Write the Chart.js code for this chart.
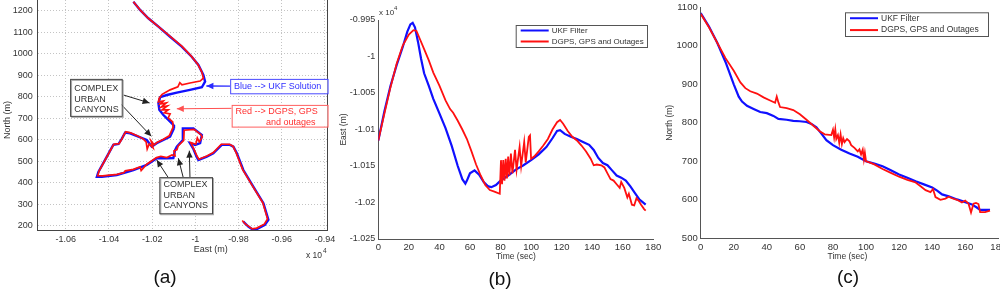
<!DOCTYPE html>
<html><head><meta charset="utf-8">
<script src="https://cdn.jsdelivr.net/npm/chart.js@4/dist/chart.umd.min.js"></script>
<style>
html,body{margin:0;padding:0;background:#fff;width:1000px;height:291px;overflow:hidden}
canvas{position:absolute;left:0;top:0}
</style></head><body>
<canvas id="ca" width="1000" height="291"></canvas>
<canvas id="cb" width="1000" height="291"></canvas>
<canvas id="cc" width="1000" height="291"></canvas>
<script>
// ---------- Panel (a): trajectory, East (x 1e4 m) vs North (m) ----------
const trajBlueEast = [-1.0287,-1.0256,-1.0218,-1.0171,-1.0117,-1.0063,-1.0017,-0.9986,-0.9963,-0.9955,-0.9970,-1.0025,-1.0086,-1.0132,-1.0163,-1.0171,-1.0167,-1.0148,-1.0125,-1.0102,-1.0099,-1.0117,-1.0148,-1.0179,-1.0202,-1.0225,-1.0264,-1.0302,-1.0325,-1.0341,-1.0356,-1.0380,-1.0418,-1.0449,-1.0456,-1.0433,-1.0364,-1.0287,-1.0225,-1.0179,-1.0132,-1.0102,-1.0094,-1.0086,-1.0058,-1.0058,-1.0009,-0.9970,-0.9978,-1.0001,-1.0025,-1.0010,-0.9994,-0.9986,-0.9947,-0.9917,-0.9878,-0.9840,-0.9824,-0.9808,-0.9778,-0.9732,-0.9685,-0.9662,-0.9678,-0.9716,-0.9732,-0.9755,-0.9778];
const trajBlueNorth = [1243,1205,1166,1127,1080,1034,987,949,902,871,845,833,820,809,799,771,740,716,693,670,654,615,600,585,569,600,615,631,634,605,581,577,507,451,429,429,437,460,484,515,515,516,553,569,600,654,654,623,585,577,585,560,521,507,522,538,577,577,569,538,460,383,306,228,205,185,181,197,220];
const trajRedEast = [-1.0287,-1.0256,-1.0218,-1.0171,-1.0117,-1.0063,-1.0019,-0.9988,-0.9970,-0.9963,-0.9978,-1.0025,-1.0062,-1.0072,-1.0081,-1.0117,-1.0154,-1.0168,-1.0171,-1.0149,-1.0163,-1.0135,-1.0158,-1.0130,-1.0154,-1.0126,-1.0144,-1.0117,-1.0126,-1.0105,-1.0103,-1.0121,-1.0150,-1.0178,-1.0191,-1.0205,-1.0196,-1.0214,-1.0223,-1.0228,-1.0242,-1.0264,-1.0300,-1.0322,-1.0332,-1.0338,-1.0353,-1.0378,-1.0416,-1.0446,-1.0452,-1.0430,-1.0362,-1.0330,-1.0325,-1.0287,-1.0256,-1.0251,-1.0225,-1.0180,-1.0160,-1.0132,-1.0108,-1.0094,-1.0099,-1.0085,-1.0080,-1.0054,-1.0052,-1.0006,-0.9975,-0.9968,-0.9982,-0.9991,-0.9998,-1.0022,-1.0008,-0.9992,-0.9984,-0.9947,-0.9917,-0.9880,-0.9842,-0.9826,-0.9811,-0.9781,-0.9735,-0.9688,-0.9666,-0.9681,-0.9716,-0.9737,-0.9769,-0.9783];
const trajRedNorth = [1243,1205,1166,1127,1082,1036,990,951,916,887,874,865,856,866,847,833,812,793,777,781,767,772,753,758,740,740,726,721,702,684,660,619,602,588,577,595,563,581,558,591,605,617,633,638,622,608,583,580,510,455,434,433,440,448,456,463,475,458,487,518,524,518,530,526,549,555,572,598,645,649,625,614,591,609,580,588,560,524,510,525,541,580,580,571,540,462,385,308,233,208,190,186,209,225];
const eastTicksA = [-1.06,-1.04,-1.02,-1,-0.98,-0.96,-0.94];
const eastTickLabelsA = ['-1.06','-1.04','-1.02','-1','-0.98','-0.96','-0.94'];
const northTicksA = [200,300,400,500,600,700,800,900,1000,1100,1200];

// ---------- Panel (b): East (x 1e4 m) vs time ----------
const timeBlueB = [0,4,8,12,16,19,21,22.5,24,26,28,30,33,36,40,44,48,52,55,57,58,60,63,66,69,72,74,77,80,85,90,95,100,105,110,114,117,119,122,126,130,134,138,141,144,147,150,153,156,159,162,165,168,171,175];
const eastBlueB = [-1.0115,-1.0075,-1.0040,-1.0012,-0.9987,-0.9966,-0.9956,-0.9954,-0.9960,-0.9980,-1.0003,-1.0023,-1.0040,-1.0058,-1.0078,-1.0098,-1.0122,-1.0150,-1.0168,-1.0174,-1.0170,-1.0160,-1.0156,-1.0162,-1.0172,-1.0178,-1.0179,-1.0176,-1.0170,-1.0163,-1.0155,-1.0149,-1.0142,-1.0134,-1.0124,-1.0112,-1.0102,-1.0101,-1.0106,-1.0110,-1.0113,-1.0117,-1.0121,-1.0128,-1.0139,-1.0146,-1.0149,-1.0156,-1.0163,-1.0166,-1.0170,-1.0178,-1.0187,-1.0196,-1.0203];
const timeRedB = [0,4,8,12,16,20,23,25,27,30,33,36,40,44,47,49,52,55,58,61,64,67,70,73,76,79.5,80.3,81,81.8,82.6,83.4,84.2,85,85.8,86.8,87.8,89.5,90.5,92.5,93.5,95.5,96.5,98.5,99.3,100,102,105,108,111,114,117,119,121,124,127,130,133,136,139,141,143,146,148,150,152,154,156,158,159,161,163,164,166,167.5,169,170.5,172,174,175];
const eastRedB = [-1.0115,-1.0078,-1.0042,-1.0010,-0.9985,-0.9970,-0.9964,-0.9965,-0.9975,-0.9990,-1.0005,-1.0022,-1.0040,-1.0060,-1.0072,-1.0077,-1.0088,-1.0100,-1.0113,-1.0130,-1.0148,-1.0163,-1.0176,-1.0183,-1.0185,-1.0188,-1.0142,-1.0175,-1.0142,-1.0170,-1.0140,-1.0167,-1.0137,-1.0163,-1.0133,-1.0160,-1.0128,-1.0155,-1.0124,-1.0150,-1.0117,-1.0145,-1.0110,-1.0108,-1.0140,-1.0137,-1.0130,-1.0122,-1.0113,-1.0100,-1.0090,-1.0087,-1.0092,-1.0102,-1.0110,-1.0115,-1.0122,-1.0130,-1.0140,-1.0149,-1.0148,-1.0149,-1.0152,-1.0160,-1.0168,-1.0170,-1.0175,-1.0180,-1.0172,-1.0180,-1.0193,-1.0188,-1.0203,-1.0204,-1.0194,-1.0198,-1.0203,-1.0209,-1.0211];
const eastTicksB = [-1.025,-1.02,-1.015,-1.01,-1.005,-1,-0.995];
const eastTickLabelsB = ['-1.025','-1.02','-1.015','-1.01','-1.005','-1','-0.995'];
const timeTicks = [0,20,40,60,80,100,120,140,160,180];

// ---------- Panel (c): North (m) vs time ----------
const timeBlueC = [0,5,10,15,20,23,25,28,32,36,40,44,47,52,56,60,64,67,70,73,76,80,85,90,95,100,105,110,115,120,125,130,135,140,143,146,150,155,160,164,167,169,175];
const northBlueC = [1085,1050,1008,958,900,868,855,844,836,828,825,818,810,808,805,804,802,797,788,772,755,742,730,720,712,700,694,687,677,666,657,648,640,632,624,614,609,601,594,588,580,574,574];
const timeRedC = [0,5,10,15,20,24,27,30,34,38,42,45,46,47,48,52,56,60,64,68,72,75,79,80,80.7,81.4,82,83,83.8,84.6,85.4,86.2,87,88.5,90,91,93,95,96,97,98,98.7,99.3,100,102,105,110,115,120,125,128,130,133,136,139,140.5,142,145,148,150,152,155,158,160,162,163.5,165,166.5,168,169,172,175];
const northRedC = [1083,1048,1008,968,935,905,890,882,876,866,858,852,868,853,841,838,833,822,808,793,778,770,768,782,762,783,758,768,748,770,745,760,750,758,752,742,735,726,731,718,730,705,722,700,697,692,680,670,660,652,648,645,635,625,620,628,607,600,603,608,604,600,593,598,590,567,590,592,589,568,568,572];
const northTicksC = [500,600,700,800,900,1000,1100];

const seriesNames = ['UKF Filter','DGPS, GPS and Outages'];
const BLUE = '#1010ff', RED = '#ff1010';
const FONT = '"Liberation Sans", Arial, Helvetica, sans-serif';
const TXT = '#333';

function zip(xs, ys){ return xs.map((x,i)=>({x:x, y:ys[i]})); }
function setTicks(vals){ return s => { s.ticks = vals.map(v=>({value:v})); }; }
function labelFrom(vals, labels){ return v => { const i = vals.findIndex(t=>Math.abs(t-v)<1e-9); return i<0 ? '' : (labels ? labels[i] : String(vals[i])); }; }
function fitY(w){ return s => { s.width=w; s.paddingTop=0; s.paddingBottom=0; s.paddingLeft=0; s.paddingRight=0; }; }
function fitX(h){ return s => { s.height=h; s.paddingTop=0; s.paddingBottom=0; s.paddingLeft=0; s.paddingRight=0; }; }

function txt(ctx, s, x, y, size, color, align, rot){
  ctx.save(); ctx.font = size+'px '+FONT; ctx.fillStyle = color||TXT;
  ctx.textAlign = align||'center'; ctx.textBaseline = 'middle';
  ctx.translate(x,y); if(rot) ctx.rotate(rot); ctx.fillText(s,0,0); ctx.restore();
}
function arrow(ctx, x1,y1,x2,y2,color,w){
  ctx.save(); ctx.strokeStyle=color; ctx.fillStyle=color; ctx.lineWidth=w||1;
  ctx.beginPath(); ctx.moveTo(x1,y1); ctx.lineTo(x2,y2); ctx.stroke();
  const a=Math.atan2(y2-y1,x2-x1), L=7, H=3.2;
  ctx.beginPath(); ctx.moveTo(x2,y2);
  ctx.lineTo(x2-L*Math.cos(a)+H*Math.sin(a), y2-L*Math.sin(a)-H*Math.cos(a));
  ctx.lineTo(x2-L*Math.cos(a)-H*Math.sin(a), y2-L*Math.sin(a)+H*Math.cos(a));
  ctx.closePath(); ctx.fill(); ctx.restore();
}
function legend(chart, x0,y0,x1,y1, size){
  const ctx=chart.ctx; ctx.save();
  ctx.fillStyle='#fff'; ctx.fillRect(x0,y0,x1-x0,y1-y0);
  ctx.strokeStyle='#555'; ctx.lineWidth=1; ctx.strokeRect(x0+0.5,y0+0.5,x1-x0,y1-y0);
  const ds=chart.data.datasets, h=(y1-y0)/ds.length;
  ds.forEach((d,i)=>{
    const yy=y0+h*(i+0.5);
    ctx.strokeStyle=d.borderColor; ctx.lineWidth=2;
    ctx.beginPath(); ctx.moveTo(x0+5,yy); ctx.lineTo(x0+33,yy); ctx.stroke();
    txt(ctx,d.label,x0+36,yy,size,TXT,'left');
  });
  ctx.restore();
}

// ---------- Chart (a) ----------
const annotA = {
  id:'annotA',
  afterDraw(chart){
    const ctx=chart.ctx, xs=chart.scales.x, ys=chart.scales.y, a=chart.chartArea;
    const X=v=>xs.getPixelForValue(v), Y=v=>ys.getPixelForValue(v);
    ctx.save();
    ctx.strokeStyle='#444'; ctx.lineWidth=1;
    ctx.beginPath(); ctx.moveTo(a.right-0.5,a.top); ctx.lineTo(a.right-0.5,a.bottom); ctx.stroke();
    ctx.restore();
    txt(ctx,'East (m)',(a.left+a.right)/2+28,250,9);
    txt(ctx,'North (m)',8,120,9,TXT,'center',-Math.PI/2);
    txt(ctx,'x 10',306,256,8.5,TXT,'left');
    txt(ctx,'4',323,251,6.5,TXT,'left');
    txt(ctx,'(a)',165,278,19,'#111');
    function box(e0,n0,e1,n1,lines,color,border){
      const x0=X(e0),y0=Y(n0),x1=X(e1),y1=Y(n1);
      ctx.save(); ctx.fillStyle='#fff'; ctx.fillRect(x0,y0,x1-x0,y1-y0);
      if(border==='gray'){
        ctx.strokeStyle='#aaa'; ctx.lineWidth=1; ctx.strokeRect(x0+1.5,y0+1.5,x1-x0,y1-y0);
        ctx.strokeStyle='#444'; ctx.strokeRect(x0+0.5,y0+0.5,x1-x0,y1-y0);
      } else { ctx.strokeStyle=border; ctx.lineWidth=1; ctx.strokeRect(x0+0.5,y0+0.5,x1-x0,y1-y0); }
      ctx.restore();
      lines.forEach(l=>txt(ctx,l.t,X(l.e),Y(l.n),9,color,l.al||'left'));
    }
    arrow(ctx,X(-1.0333),Y(809),X(-1.0212),Y(772),'#222');
    arrow(ctx,X(-1.0349),Y(771),X(-1.0204),Y(617),'#222');
    box(-1.0580,884,-1.0341,712,[{t:'COMPLEX',e:-1.0561,n:840},{t:'URBAN',e:-1.0561,n:789},{t:'CANYONS',e:-1.0561,n:740}],'#333','gray');
    arrow(ctx,X(-1.0125),Y(424),X(-1.0179),Y(507),'#222');
    arrow(ctx,X(-1.0056),Y(424),X(-1.0079),Y(515),'#222');
    arrow(ctx,X(-1.0025),Y(424),X(-1.0028),Y(550),'#222');
    box(-1.0167,427,-0.9923,259,[{t:'COMPLEX',e:-1.0148,n:391},{t:'URBAN',e:-1.0148,n:340},{t:'CANYONS',e:-1.0148,n:293}],'#333','gray');
    arrow(ctx,X(-0.9839),Y(850),X(-0.9949),Y(851),'#2a2aff',1.3);
    box(-0.9839,884,-0.9388,817,[{t:'Blue --> UKF Solution',e:-0.9821,n:849}],'#3030ff','#4a4aff');
    arrow(ctx,X(-0.9832),Y(747),X(-1.0086),Y(745),'#ff5050',1);
    box(-0.9832,763,-0.9388,662,[{t:'Red --> DGPS, GPS',e:-0.9814,n:734},{t:'and outages',e:-0.9444,n:683,al:'right'}],'#ff3030','#ff6060');
  }
};
new Chart(document.getElementById('ca'),{
  type:'scatter',
  data:{datasets:[
    {label:seriesNames[0],data:zip(trajBlueEast,trajBlueNorth),showLine:true,borderColor:BLUE,backgroundColor:BLUE,borderWidth:2.4,pointRadius:0,order:1},
    {label:seriesNames[1],data:zip(trajRedEast,trajRedNorth),showLine:true,borderColor:RED,backgroundColor:RED,borderWidth:1.7,pointRadius:0,order:0}
  ]},
  options:{
    responsive:false,animation:false,devicePixelRatio:1,
    layout:{padding:{left:7.7,right:672,top:0,bottom:21}},
    plugins:{legend:{display:false},tooltip:{enabled:false}},
    scales:{
      x:{type:'linear',min:-1.0730,max:-0.9386,afterBuildTicks:setTicks(eastTicksA),afterFit:fitX(40),
         ticks:{callback:labelFrom(eastTicksA,eastTickLabelsA),font:{family:FONT,size:9},color:TXT,padding:4,maxRotation:0,autoSkip:false},
         grid:{color:'#c4c4c4',drawTicks:false,lineWidth:1},border:{color:'#444',dash:[1,2]}},
      y:{type:'linear',min:181,max:1251,afterBuildTicks:setTicks(northTicksA),afterFit:fitY(30),
         ticks:{callback:labelFrom(northTicksA),font:{family:FONT,size:9},color:TXT,padding:5,autoSkip:false},
         grid:{color:'#c4c4c4',drawTicks:false,lineWidth:1},border:{color:'#444',dash:[1,2]}}
    }
  },
  plugins:[annotA]
});

// ---------- Chart (b) ----------
const decoB = {
  id:'decoB',
  afterDraw(chart){
    const ctx=chart.ctx, a=chart.chartArea;
    txt(ctx,'Time (sec)',(a.left+a.right)/2,257,8.5);
    txt(ctx,'East (m)',344,(a.top+a.bottom)/2,8.5,TXT,'center',-Math.PI/2);
    txt(ctx,'x 10',379,13,8,TXT,'left');
    txt(ctx,'4',394,8,6,TXT,'left');
    txt(ctx,'(b)',500,280,19,'#111');
    legend(chart,515.7,25,647,47,8);
  }
};
new Chart(document.getElementById('cb'),{
  type:'scatter',
  data:{datasets:[
    {label:seriesNames[0],data:zip(timeBlueB,eastBlueB),showLine:true,borderColor:BLUE,backgroundColor:BLUE,borderWidth:2.2,pointRadius:0,order:1},
    {label:seriesNames[1],data:zip(timeRedB,eastRedB),showLine:true,borderColor:RED,backgroundColor:RED,borderWidth:1.8,pointRadius:0,order:0}
  ]},
  options:{
    responsive:false,animation:false,devicePixelRatio:1,
    layout:{padding:{left:333.3,right:346.7,top:20,bottom:12}},
    plugins:{legend:{display:false},tooltip:{enabled:false}},
    scales:{
      x:{type:'linear',min:0,max:180,afterBuildTicks:setTicks(timeTicks),afterFit:fitX(40),
         ticks:{callback:labelFrom(timeTicks),font:{family:FONT,size:9.5},color:TXT,padding:3,maxRotation:0,autoSkip:false},
         grid:{display:false,drawTicks:false},border:{color:'#555'}},
      y:{type:'linear',min:-1.025,max:-0.995,afterBuildTicks:setTicks(eastTicksB),afterFit:fitY(45),
         ticks:{callback:labelFrom(eastTicksB,eastTickLabelsB),font:{family:FONT,size:9},color:TXT,padding:3,autoSkip:false},
         grid:{display:false,drawTicks:false},border:{color:'#555'}}
    }
  },
  plugins:[decoB]
});

// ---------- Chart (c) ----------
const decoC = {
  id:'decoC',
  afterDraw(chart){
    const ctx=chart.ctx, a=chart.chartArea;
    txt(ctx,'Time (sec)',(a.left+a.right)/2-2,257,8.5);
    txt(ctx,'North (m)',670,(a.top+a.bottom)/2,8.5,TXT,'center',-Math.PI/2);
    txt(ctx,'(c)',848,278,19,'#111');
    legend(chart,845,12.3,988,36,8.5);
  }
};
new Chart(document.getElementById('cc'),{
  type:'scatter',
  data:{datasets:[
    {label:seriesNames[0],data:zip(timeBlueC,northBlueC),showLine:true,borderColor:BLUE,backgroundColor:BLUE,borderWidth:2.2,pointRadius:0,order:1},
    {label:seriesNames[1],data:zip(timeRedC,northRedC),showLine:true,borderColor:RED,backgroundColor:RED,borderWidth:1.8,pointRadius:0,order:0}
  ]},
  options:{
    responsive:false,animation:false,devicePixelRatio:1,
    layout:{padding:{left:655.7,right:1.7,top:7.3,bottom:12.7}},
    plugins:{legend:{display:false},tooltip:{enabled:false}},
    scales:{
      x:{type:'linear',min:0,max:180,afterBuildTicks:setTicks(timeTicks),afterFit:fitX(40),
         ticks:{callback:labelFrom(timeTicks),font:{family:FONT,size:9.5},color:TXT,padding:3,maxRotation:0,autoSkip:false},
         grid:{display:false,drawTicks:false},border:{color:'#555'}},
      y:{type:'linear',min:500,max:1100,afterBuildTicks:setTicks(northTicksC),afterFit:fitY(45),
         ticks:{callback:labelFrom(northTicksC),font:{family:FONT,size:9.5},color:TXT,padding:3,autoSkip:false},
         grid:{display:false,drawTicks:false},border:{color:'#555'}}
    }
  },
  plugins:[decoC]
});
</script>
</body></html>
